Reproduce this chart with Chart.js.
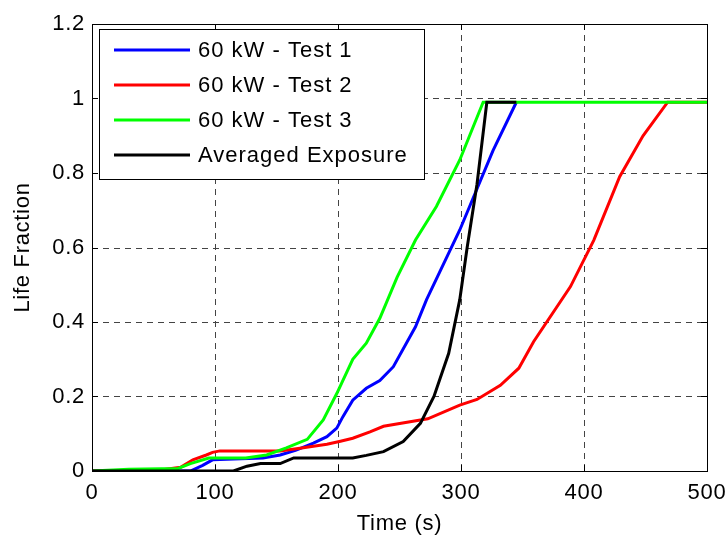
<!DOCTYPE html>
<html>
<head>
<meta charset="utf-8">
<script src="https://cdn.jsdelivr.net/npm/chart.js@4.4.1/dist/chart.umd.min.js"></script>
<style>
  html, body { margin: 0; padding: 0; background: #fff; }
  #wrap { position: relative; width: 728px; height: 538px; }
</style>
</head>
<body>
<div id="wrap"><canvas id="life-chart"></canvas></div>
<script>
// Tick positions for both axes
const xTicks = [0, 100, 200, 300, 400, 500];
const yTicks = [0, 0.2, 0.4, 0.6, 0.8, 1, 1.2];

// Test 1 (blue)
const test1Time = [0, 80, 90, 98, 139, 153, 166, 180, 191, 199, 204, 212, 223, 234, 245, 263, 272, 299, 307, 326, 345];
const test1Life = [0, 0, 0.015, 0.03, 0.035, 0.043, 0.056, 0.075, 0.092, 0.115, 0.146, 0.19, 0.222, 0.243, 0.28, 0.387, 0.46, 0.647, 0.71, 0.86, 0.99];

// Test 2 (red)
const test2Time = [0, 50, 72, 82, 93, 98, 104, 153, 169, 191, 202, 212, 226, 237, 267, 273, 299, 313, 332, 347, 359, 389, 408, 429, 448, 468, 500];
const test2Life = [0, 0, 0.01, 0.03, 0.043, 0.05, 0.054, 0.054, 0.061, 0.072, 0.08, 0.088, 0.105, 0.12, 0.137, 0.14, 0.177, 0.192, 0.23, 0.276, 0.347, 0.495, 0.62, 0.79, 0.9, 0.99, 0.99];

// Test 3 (green)
const test3Time = [0, 30, 70, 80, 95, 125, 142, 158, 175, 188, 199, 212, 223, 234, 248, 263, 280, 299, 318, 500];
const test3Life = [0, 0.005, 0.007, 0.02, 0.035, 0.035, 0.043, 0.062, 0.085, 0.137, 0.208, 0.3, 0.343, 0.41, 0.52, 0.62, 0.71, 0.835, 0.99, 0.99];

// Averaged exposure (black)
const avgTime = [0, 115, 126, 137, 153, 164, 212, 223, 237, 253, 267, 278, 290, 299, 305, 313, 321, 345];
const avgLife = [0, 0, 0.013, 0.02, 0.02, 0.035, 0.035, 0.042, 0.052, 0.079, 0.128, 0.2, 0.316, 0.46, 0.6, 0.77, 0.99, 0.99];

const FONT = "Arial, 'Liberation Sans', Helvetica, sans-serif";

function toPoints(ts, vs) {
  return ts.map((t, i) => ({ x: t, y: vs[i] }));
}

function series(label, ts, vs, color, order) {
  return {
    label: label,
    data: toPoints(ts, vs),
    borderColor: color,
    backgroundColor: color,
    borderWidth: 3,
    pointRadius: 0,
    tension: 0,
    order: order,
  };
}

// Slightly looser text for the whole chart
const textSpacing = {
  id: "textSpacing",
  beforeDraw(chart) { chart.ctx.letterSpacing = "0.7px"; },
  afterDraw(chart) { chart.ctx.letterSpacing = "0px"; },
};

// Dashed grid, inward ticks on all four sides and the box frame
const frameGrid = {
  id: "frameGrid",
  beforeDatasetsDraw(chart) {
    const { ctx, chartArea: a, scales } = chart;
    ctx.save();
    ctx.strokeStyle = "#444";
    ctx.lineWidth = 1;
    ctx.setLineDash([6, 5]);
    xTicks.slice(1, -1).forEach((v) => {
      const px = Math.round(scales.x.getPixelForValue(v)) + 0.5;
      ctx.beginPath();
      ctx.moveTo(px, a.top);
      ctx.lineTo(px, a.bottom);
      ctx.stroke();
    });
    yTicks.slice(1, -1).forEach((v) => {
      const py = Math.round(scales.y.getPixelForValue(v)) + 0.5;
      ctx.beginPath();
      ctx.moveTo(a.left, py);
      ctx.lineTo(a.right, py);
      ctx.stroke();
    });
    ctx.restore();
  },
  afterDatasetsDraw(chart) {
    const { ctx, chartArea: a, scales } = chart;
    const tl = 6;
    ctx.save();
    ctx.strokeStyle = "#000";
    ctx.lineWidth = 1;
    ctx.beginPath();
    xTicks.forEach((v) => {
      const px = Math.round(scales.x.getPixelForValue(v)) + 0.5;
      ctx.moveTo(px, a.bottom);
      ctx.lineTo(px, a.bottom - tl);
      ctx.moveTo(px, a.top);
      ctx.lineTo(px, a.top + tl);
    });
    yTicks.forEach((v) => {
      const py = Math.round(scales.y.getPixelForValue(v)) + 0.5;
      ctx.moveTo(a.left, py);
      ctx.lineTo(a.left + tl, py);
      ctx.moveTo(a.right, py);
      ctx.lineTo(a.right - tl, py);
    });
    ctx.stroke();
    ctx.strokeRect(Math.round(a.left) + 0.5, Math.round(a.top) + 0.5, Math.round(a.right - a.left), Math.round(a.bottom - a.top));
    ctx.restore();
  },
};

// Boxed legend in the upper-left corner of the plot
const boxLegend = {
  id: "boxLegend",
  afterDraw(chart) {
    const { ctx, chartArea: a } = chart;
    const left = a.left + 7, top = a.top + 5, w = 325, h = 150;
    const rowH = 35, firstRow = top + 21;
    ctx.save();
    ctx.fillStyle = "#fff";
    ctx.fillRect(left, top, w, h);
    ctx.strokeStyle = "#000";
    ctx.lineWidth = 1;
    ctx.strokeRect(left + 0.5, top + 0.5, w, h);
    ctx.font = "22px " + FONT;
    ctx.letterSpacing = "1px";
    ctx.textBaseline = "middle";
    ctx.textAlign = "left";
    chart.data.datasets.forEach((ds, i) => {
      const y = firstRow + i * rowH;
      ctx.strokeStyle = ds.borderColor;
      ctx.lineWidth = 3;
      ctx.beginPath();
      ctx.moveTo(left + 15, y);
      ctx.lineTo(left + 91, y);
      ctx.stroke();
      ctx.fillStyle = "#000";
      ctx.fillText(ds.label, left + 99, y + 1);
    });
    ctx.restore();
  },
};

new Chart(document.getElementById("life-chart"), {
  type: "line",
  data: {
    datasets: [
      series("60 kW - Test 1", test1Time, test1Life, "#0000ff", 4),
      series("60 kW - Test 2", test2Time, test2Life, "#ff0000", 3),
      series("60 kW - Test 3", test3Time, test3Life, "#00ff00", 2),
      series("Averaged Exposure", avgTime, avgLife, "#000000", 1),
    ],
  },
  options: {
    responsive: true,
    maintainAspectRatio: false,
    animation: false,
    layout: { padding: { left: 0, right: 21, top: 24, bottom: 0 } },
    plugins: {
      legend: { display: false },
      tooltip: { enabled: false },
    },
    scales: {
      x: {
        type: "linear",
        min: 0,
        max: 500,
        afterBuildTicks: (s) => { s.ticks = xTicks.map((v) => ({ value: v })); },
        afterFit: (s) => { s.height = 67; s.paddingLeft = 0; s.paddingRight = 0; },
        ticks: { color: "#000", font: { family: FONT, size: 22 }, padding: 9, maxRotation: 0 },
        grid: { display: false, drawTicks: false },
        border: { display: false },
        title: { display: true, text: "Time (s)", color: "#000", font: { family: FONT, size: 22 }, padding: { bottom: 1 } },
      },
      y: {
        type: "linear",
        min: 0,
        max: 1.2,
        afterBuildTicks: (s) => { s.ticks = yTicks.map((v) => ({ value: v })); },
        afterFit: (s) => { s.width = 92; s.paddingTop = 0; s.paddingBottom = 0; },
        ticks: { color: "#000", font: { family: FONT, size: 22 }, padding: 7, callback: (v) => String(+v.toFixed(1)) },
        grid: { display: false, drawTicks: false },
        border: { display: false },
        title: { display: true, text: "Life Fraction", color: "#000", font: { family: FONT, size: 22 }, padding: { top: 10 } },
      },
    },
  },
  plugins: [textSpacing, frameGrid, boxLegend],
});
</script>
</body>
</html>
